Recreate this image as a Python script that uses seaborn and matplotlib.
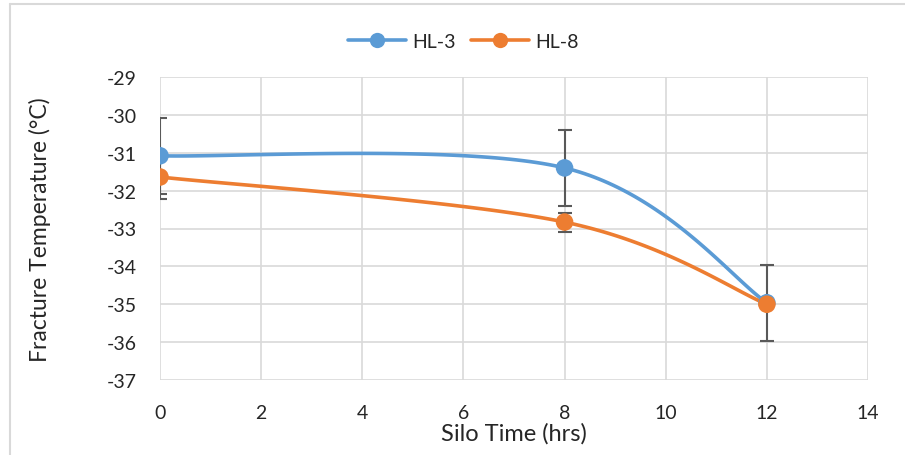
import numpy as np
import pandas as pd
import matplotlib
matplotlib.use("Agg")
import matplotlib.pyplot as plt
from matplotlib.lines import Line2D
import seaborn as sns

# ---- data ----
silo_time = [0, 8, 12]
hl3_temp = [-31.08, -31.40, -34.96]
hl3_err = [1.0, 1.0, 1.0]
hl8_temp = [-31.64, -32.83, -35.0]
hl8_err = [0.57, 0.25, 0.08]
series_names = ["HL-3", "HL-8"]
x_ticks = [0, 2, 4, 6, 8, 10, 12, 14]
y_ticks = [-37, -36, -35, -34, -33, -32, -31, -30, -29]

colors = {"HL-3": "#5B9BD5", "HL-8": "#ED7D31"}

sns.set_style("white")
plt.rcParams["font.family"] = ["Lato", "DejaVu Sans"]


def excel_smooth(xs, ys, n=60):
    """Catmull-Rom style cubic Bezier smoothing through the given points (like Excel's smoothed line)."""
    P = np.column_stack([xs, ys]).astype(float)
    m = len(P)
    out = []
    for i in range(m - 1):
        p0 = P[i - 1] if i > 0 else P[i]
        p1 = P[i]
        p2 = P[i + 1]
        p3 = P[i + 2] if i + 2 < m else P[i + 1]
        c1 = p1 + (p2 - p0) / 6.0
        c2 = p2 - (p3 - p1) / 6.0
        t = np.linspace(0, 1, n)[:, None]
        seg = ((1 - t) ** 3) * p1 + 3 * ((1 - t) ** 2) * t * c1 + 3 * (1 - t) * t ** 2 * c2 + t ** 3 * p2
        if i > 0:
            seg = seg[1:]
        out.append(seg)
    out = np.vstack(out)
    return out[:, 0], out[:, 1]


fig = plt.figure(figsize=(9.05, 4.56), dpi=100)
ax = fig.add_axes([160 / 905, 1 - 381 / 456, (868 - 160) / 905, (381 - 78) / 456])

data = {"HL-3": (hl3_temp, hl3_err), "HL-8": (hl8_temp, hl8_err)}

# error bars (behind)
for name in series_names:
    temps, errs = data[name]
    ax.errorbar(silo_time, temps, yerr=errs, fmt="none", ecolor="#595959",
                elinewidth=1.5, capsize=5, capthick=1.5, zorder=2)

# smoothed lines
for name in series_names:
    temps, _ = data[name]
    sx, sy = excel_smooth(silo_time, temps)
    df = pd.DataFrame({"x": sx, "y": sy})
    sns.lineplot(data=df, x="x", y="y", ax=ax, color=colors[name], linewidth=2.6,
                 sort=False, estimator=None, zorder=3)

# markers
for name in series_names:
    temps, _ = data[name]
    df = pd.DataFrame({"x": silo_time, "y": temps})
    sns.scatterplot(data=df, x="x", y="y", ax=ax, color=colors[name], s=160,
                    edgecolor="none", zorder=4)

ax.set_xlim(0, 14)
ax.set_ylim(-37, -29)
ax.set_xticks(x_ticks)
ax.set_yticks(y_ticks)
ax.set_xticklabels([str(v) for v in x_ticks], fontsize=14)
ax.set_yticklabels([str(v) for v in y_ticks], fontsize=14)
ax.tick_params(axis="x", length=0, pad=17)
ax.tick_params(axis="y", length=0, pad=17)
ax.grid(True, color="#d9d9d9", linewidth=1.2)
for s in ax.spines.values():
    s.set_visible(False)
ax.set_axisbelow(True)
ax.set_xlabel("Silo Time (hrs)", fontsize=17, labelpad=1)
ax.set_ylabel("Fracture Temperature (°C)", fontsize=16.5, labelpad=40)

handles = [Line2D([0], [0], color=colors[n], linewidth=2.6, marker="o", markersize=11,
                  markeredgewidth=0) for n in series_names]
fig.legend(handles, series_names, loc="center", bbox_to_anchor=(0.512, 1 - 42 / 456),
           ncol=2, frameon=False, fontsize=14, handlelength=3.0, columnspacing=0.8,
           handletextpad=0.3)

# chart-area border (top and left visible)
fig.add_artist(Line2D([9.5 / 905, 1.0], [1 - 4.5 / 456, 1 - 4.5 / 456], color="#d9d9d9",
                      linewidth=1.5, transform=fig.transFigure))
fig.add_artist(Line2D([9.5 / 905, 9.5 / 905], [0, 1 - 4.5 / 456], color="#d9d9d9",
                      linewidth=1.5, transform=fig.transFigure))

fig.savefig("out.png", dpi=100)
